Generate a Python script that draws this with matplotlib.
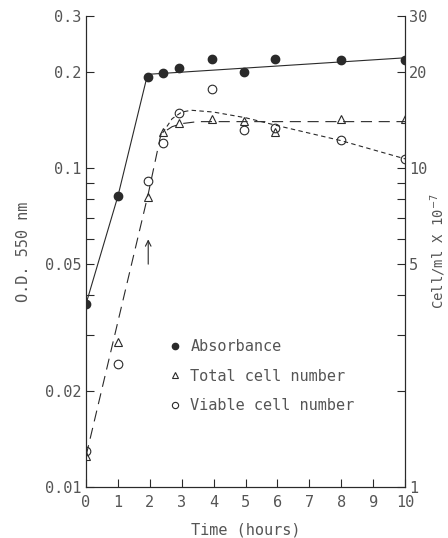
import matplotlib
matplotlib.use("Agg")
import matplotlib.pyplot as plt
from matplotlib.lines import Line2D
from matplotlib.ticker import FixedLocator, NullFormatter, LogLocator

plt.rcParams['font.family'] = ['DejaVu Sans Mono']

# ---- data ----
time_h = [0, 1, 1.93, 2.4, 2.93, 3.95, 4.95, 5.93, 7.98, 10]
absorbance = [0.0375, 0.0817, 0.193, 0.199, 0.206, 0.220, 0.201, 0.220, 0.219, 0.219]
total_cells = [1.25, 2.85, 8.1, 13.0, 13.9, 14.3, 14.1, 13.0, 14.3, 14.3]
viable_cells = [1.3, 2.43, 9.1, 12.0, 14.9, 17.7, 13.2, 13.4, 12.3, 10.7]

# hand-drawn curves, points
abs_line_x = [0, 1, 1.93, 10]
abs_line_y = [0.0375, 0.0817, 0.197, 0.222]
total_line_x = [0, 1.95, 2.35, 2.7, 3.0, 3.5, 4.0, 10]
total_line_y = [1.25, 8.3, 12.8, 13.5, 13.8, 14.0, 14.0, 14.0]
viable_line_x = [2.4, 2.7, 3.0, 3.3, 4.0, 5.0, 6.0, 8.0, 10.0]
viable_line_y = [12.9, 14.3, 15.0, 15.2, 15.0, 14.4, 13.6, 12.2, 10.7]

arrow_x = 1.95
arrow_from, arrow_to = 0.049, 0.061

left_ticks = [0.01, 0.02, 0.05, 0.1, 0.2, 0.3]
left_labels = ['0.01', '0.02', '0.05', '0.1', '0.2', '0.3']
right_ticks = [1, 5, 10, 20, 30]
right_labels = ['1', '5', '10', '20', '30']
x_ticks = list(range(0, 11))

labels = ['Absorbance', 'Total cell number', 'Viable cell number']

ink = '#2a2a2a'
txt = '#555555'

fig = plt.figure(figsize=(4.48, 5.38), dpi=100)
ax = fig.add_axes([0.192, 0.095, 0.712, 0.875])
ax2 = ax.twinx()

ax.set_yscale('log')
ax2.set_yscale('log')
ax.set_ylim(0.01, 0.3)
ax2.set_ylim(1, 30)
ax.set_xlim(0, 10)

lw = 0.8
ax.plot(abs_line_x, abs_line_y, '-', color=ink, lw=lw)
ax.plot(time_h, absorbance, 'o', color=ink, ms=6.0, mec=ink, zorder=5)

ax2.plot(total_line_x, total_line_y, color=ink, lw=lw, dashes=[10, 6])
ax2.plot(viable_line_x, viable_line_y, color=ink, lw=lw, dashes=[4, 3])
ax2.plot(time_h, total_cells, '^', mfc='none', mec=ink, ms=6.2, mew=0.8, zorder=5)
ax2.plot(time_h, viable_cells, 'o', mfc='none', mec=ink, ms=6.2, mew=0.8, zorder=5)

ax.annotate('', xy=(arrow_x, arrow_to), xytext=(arrow_x, arrow_from),
            arrowprops=dict(arrowstyle='->', lw=0.8, color=ink))

# spines
for a in (ax, ax2):
    a.spines['top'].set_visible(False)
    for s in ('left', 'right', 'bottom'):
        a.spines[s].set_color(ink)
        a.spines[s].set_linewidth(0.8)

ax.yaxis.set_major_locator(FixedLocator(left_ticks))
ax.set_yticklabels(left_labels)
ax.yaxis.set_minor_locator(LogLocator(base=10, subs=range(2, 10)))
ax.yaxis.set_minor_formatter(NullFormatter())
ax2.yaxis.set_major_locator(FixedLocator(right_ticks))
ax2.set_yticklabels(right_labels)
ax2.yaxis.set_minor_locator(LogLocator(base=10, subs=range(2, 10)))
ax2.yaxis.set_minor_formatter(NullFormatter())
ax.set_xticks(x_ticks)

for a in (ax, ax2):
    a.tick_params(which='both', direction='in', color=ink, width=0.8,
                  labelsize=11, labelcolor=txt)
    a.tick_params(which='major', length=6)
    a.tick_params(which='minor', length=6)
ax.tick_params(axis='x', pad=6)
ax2.tick_params(axis='y', pad=3)

ax.set_xlabel('Time (hours)', fontsize=11, color=txt, labelpad=9)
ax.set_ylabel('O.D. 550 nm', fontsize=11, color=txt, labelpad=10)
ax2.set_ylabel('Cell/ml X 10$^{-7}$', fontsize=10, color=txt, rotation=90, labelpad=1)

handles = [Line2D([], [], ls='none', marker='o', color=ink, ms=4.5),
           Line2D([], [], ls='none', marker='^', mfc='none', mec=ink, ms=4.5, mew=0.8),
           Line2D([], [], ls='none', marker='o', mfc='none', mec=ink, ms=4.5, mew=0.8)]
leg = ax.legend(handles, labels, frameon=False, loc='upper left',
                bbox_to_anchor=(169 / 448, 1 - 339 / 538), bbox_transform=fig.transFigure,
                fontsize=11, handlelength=0.8, handletextpad=0.6, labelspacing=0.95,
                borderaxespad=0, borderpad=0)
for t in leg.get_texts():
    t.set_color(txt)

fig.savefig('out.png', dpi=100)
